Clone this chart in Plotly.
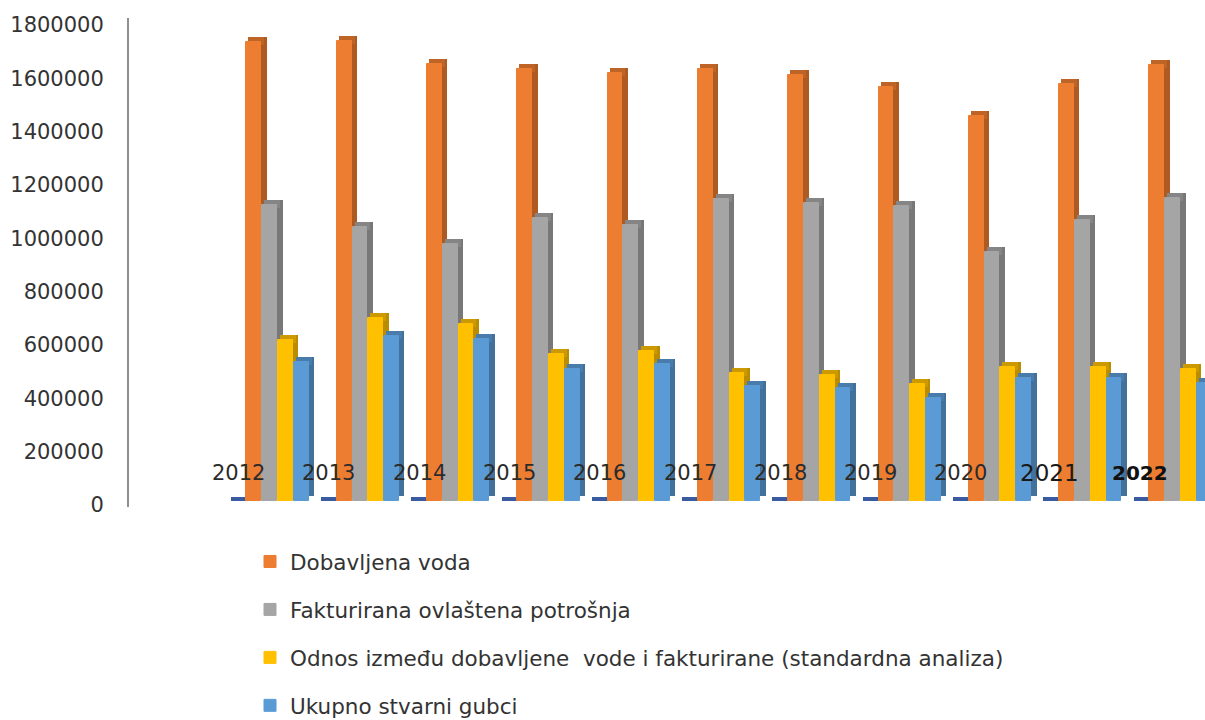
import plotly.graph_objects as go

years = [2012, 2013, 2014, 2015, 2016, 2017, 2018, 2019, 2020, 2021, 2022]
dobavljena = [1721000, 1725000, 1639000, 1620000, 1605000, 1620000, 1598000, 1553000, 1444000, 1564000, 1635000]
fakturirana = [1110000, 1027500, 964000, 1061000, 1035000, 1132500, 1117500, 1106000, 934000, 1054000, 1136000]
odnos = [604000, 686000, 664000, 551000, 562500, 480000, 472500, 439000, 502500, 502500, 495000]
gubici = [521000, 619000, 607500, 495000, 514000, 431000, 424000, 386000, 461000, 461000, 442500]
nula = [0] * 11
y_ticks = [0, 200000, 400000, 600000, 800000, 1000000, 1200000, 1400000, 1600000, 1800000]

W, H = 1205, 720
L, R, T, B = 129, 1205, 18, 507
PX_X = 90.3
PX_Y = 480 / 1800000
bar_w = 15.8 / PX_X
depth_x = 5 / PX_X
depth_y = 5 / PX_Y
edge = 1.0 / PX_X
under_x = 3 / PX_X
under_y = 3 / PX_Y

series = [
    ("Dobavljena voda", dobavljena, "#ED7D31", "#AE5A21", "#BE6427"),
    ("Fakturirana ovlaštena potrošnja", fakturirana, "#A5A5A5", "#787878", "#858585"),
    ("Odnos između dobavljene  vode i fakturirane (standardna analiza)", odnos, "#FFC000", "#BA8C00", "#CC9A00"),
    ("Ukupno stvarni gubci", gubici, "#5B9BD5", "#42719B", "#497CAA"),
]

fig = go.Figure()
# flat zero-valued bar at the left of each group
fig.add_bar(x=years, y=[depth_y * 0.9] * 11, base=nula, width=bar_w, offset=-3 * bar_w + depth_x * 0.1,
            marker=dict(color="#3A5BA0", line_width=0), showlegend=False, hoverinfo="skip")
for i, (name, vals, front, side, top) in enumerate(series):
    off = (i - 2) * bar_w
    fig.add_bar(x=years, y=vals, base=[depth_y] * 11, width=depth_x + under_x, offset=off + bar_w - under_x,
                marker=dict(color=side, line_width=0), showlegend=False, hoverinfo="skip")
    fig.add_bar(x=years, y=[depth_y + under_y] * 11, base=[v - under_y for v in vals], width=bar_w,
                offset=off + depth_x * 0.5,
                marker=dict(color=top, line_width=0), showlegend=False, hoverinfo="skip")
    fig.add_bar(x=years, y=vals, width=bar_w - edge, offset=off + edge / 2, name=name,
                marker=dict(color=front, line=dict(color=front, width=1)), legendgroup=name)

center0 = 277.5
x0 = 2012 - (center0 - L) / PX_X
x1 = 2012 + (R - center0) / PX_X
y0 = -(B - 501) / PX_Y
y1 = (501 - T) / PX_Y

font = "DejaVu Sans"
annots = []
for yr in years:
    f = dict(family=font, size=21, color="#2b2b2b")
    shift = -39
    if yr == 2021:
        f = dict(family=font, size=23, color="#1a1a1a")
        shift = -41
    if yr == 2022:
        f = dict(family=font, size=20, color="#111111", weight="bold")
        shift = -41
    annots.append(dict(x=yr + shift / PX_X, y=28 / PX_Y, text=str(yr), showarrow=False,
                       xref="x", yref="y", font=f, xanchor="center", yanchor="middle"))

fig.update_layout(
    width=W, height=H, autosize=False,
    barmode="overlay", bargap=0,
    margin=dict(l=L, r=W - R, t=T, b=H - B, pad=0, autoexpand=False),
    paper_bgcolor="white", plot_bgcolor="white",
    xaxis=dict(range=[x0, x1], visible=False, fixedrange=True),
    yaxis=dict(range=[y0, y1], tickvals=y_ticks, ticktext=[str(v) for v in y_ticks],
               showgrid=False, zeroline=False, showline=True, linecolor="#8f8f8f", linewidth=2,
               ticks="", ticklabelstandoff=19, ticklabelshift=4,
               tickfont=dict(family=font, size=21, color="#333333"), fixedrange=True),
    legend=dict(x=(250 - L) / (R - L), y=(B - 541) / (B - T), xanchor="left", yanchor="top",
                traceorder="grouped", tracegroupgap=17, font=dict(family=font, size=21.5, color="#333333"),
                bgcolor="rgba(0,0,0,0)", itemclick=False, itemdoubleclick=False),
    annotations=annots,
    showlegend=True,
)
fig.write_html("out.html", config={"displayModeBar": False},
               post_script="document.body.style.margin='0';document.body.style.overflow='hidden';")
